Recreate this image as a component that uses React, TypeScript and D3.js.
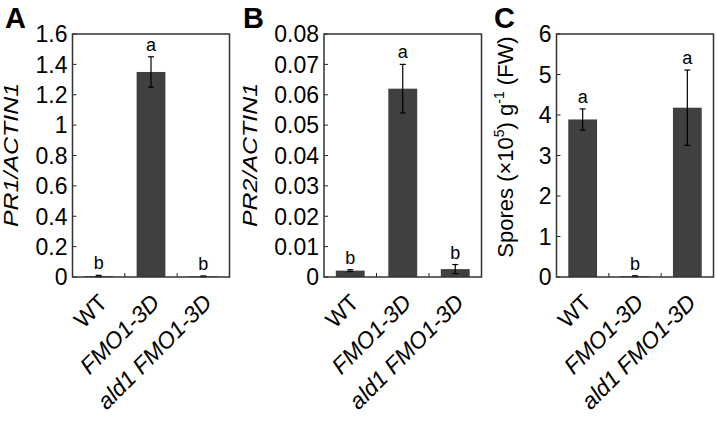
import * as d3 from 'd3';
import React from 'react';

const categories = ['WT', 'FMO1-3D', 'ald1 FMO1-3D'];
const italicCategory = [false, true, true];

const pr1Means = [0.006, 1.35, 0.004];
const pr1Errors = [0.005, 0.1, 0.003];
const pr1Letters = ['b', 'a', 'b'];
const pr1Ticks = [0, 0.2, 0.4, 0.6, 0.8, 1, 1.2, 1.4, 1.6];

const pr2Means = [0.0021, 0.062, 0.0026];
const pr2Errors = [0.0003, 0.008, 0.0015];
const pr2Letters = ['b', 'a', 'b'];
const pr2Ticks = [0, 0.01, 0.02, 0.03, 0.04, 0.05, 0.06, 0.07, 0.08];

const sporeMeans = [3.89, 0.02, 4.18];
const sporeErrors = [0.26, 0.01, 0.93];
const sporeLetters = ['a', 'b', 'a'];
const sporeTicks = [0, 1, 2, 3, 4, 5, 6];

const FONT = '"Liberation Sans", Arial, sans-serif';
const BAR = '#404040';
const top = 34;
const bottom = 277;

interface PanelProps {
  letter: string;
  left: number;
  width: number;
  means: number[];
  errors: number[];
  letters: string[];
  ticks: number[];
  yLabel: React.ReactNode;
  yLabelX: number;
  yLabelY: number;
  yLabelSize: number;
  yLabelLength?: number;
  letterX: number;
}

function Panel(props: PanelProps) {
  const { letter, left, width, means, errors, letters, ticks, yLabel, yLabelX, yLabelY, yLabelSize, yLabelLength, letterX } = props;
  const x = d3.scaleBand<string>().domain(categories).range([left, left + width]).paddingInner(0.45).paddingOuter(0.225);
  const y = d3.scaleLinear().domain([0, ticks[ticks.length - 1]]).range([bottom, top]);
  const step = x.step();

  return (
    <g fontFamily={FONT}>
      <text x={letterX} y={28} fontSize={29} fontWeight="bold" fill="#000">{letter}</text>
      {ticks.map((t) => (
        <g key={t}>
          <line x1={left} x2={left + 4} y1={y(t)} y2={y(t)} stroke="#222" strokeWidth={1} />
          <text x={left - 5} y={y(t)} dy="0.36em" textAnchor="end" fontSize={23} fill="#000">{String(t)}</text>
        </g>
      ))}
      {[1, 2].map((i) => (
        <line key={i} x1={left + step * i} x2={left + step * i} y1={bottom} y2={bottom - 4} stroke="#222" strokeWidth={1} />
      ))}
      {categories.map((c, i) => {
        const bx = x(c) as number;
        const cx = bx + x.bandwidth() / 2;
        const y0 = y(means[i]);
        const yHi = y(means[i] + errors[i]);
        const yLo = y(Math.max(0, means[i] - errors[i]));
        return (
          <g key={c}>
            <rect x={bx} y={y0} width={x.bandwidth()} height={bottom - y0} fill={BAR} />
            <line x1={cx} x2={cx} y1={yHi} y2={yLo} stroke="#000" strokeWidth={1.2} />
            <line x1={cx - 3} x2={cx + 3} y1={yHi} y2={yHi} stroke="#000" strokeWidth={1.2} />
            <line x1={cx - 3} x2={cx + 3} y1={yLo} y2={yLo} stroke="#000" strokeWidth={1.2} />
            <text x={cx} y={yHi - 6} textAnchor="middle" fontSize={18} fill="#000">{letters[i]}</text>
            <text
              transform={`translate(${cx + 10}, ${bottom + 27}) rotate(-45)`}
              textAnchor="end"
              fontSize={23}
              fontStyle={italicCategory[i] ? 'italic' : 'normal'}
              fill="#000"
            >
              {c}
            </text>
          </g>
        );
      })}
      <rect x={left} y={top} width={width} height={bottom - top} fill="none" stroke="#333" strokeWidth={1.5} />
      <text
        transform={`translate(${yLabelX}, ${yLabelY}) rotate(-90)`}
        textAnchor="middle"
        fontSize={yLabelSize}
        textLength={yLabelLength}
        lengthAdjust={yLabelLength ? 'spacingAndGlyphs' : undefined}
        fill="#000"
      >
        {yLabel}
      </text>
    </g>
  );
}

export default function App() {
  return (
    <svg width={717} height={421} style={{ position: 'absolute', left: 0, top: 0, background: '#fff' }}>
      <Panel
        letter="A"
        left={72.5}
        width={157}
        means={pr1Means}
        errors={pr1Errors}
        letters={pr1Letters}
        ticks={pr1Ticks}
        yLabel={<tspan fontStyle="italic">PR1/ACTIN1</tspan>}
        yLabelX={18}
        yLabelY={155}
        yLabelSize={21}
        yLabelLength={144}
        letterX={5}
      />
      <Panel
        letter="B"
        left={324}
        width={157.5}
        means={pr2Means}
        errors={pr2Errors}
        letters={pr2Letters}
        ticks={pr2Ticks}
        yLabel={<tspan fontStyle="italic">PR2/ACTIN1</tspan>}
        yLabelX={257}
        yLabelY={155}
        yLabelSize={21}
        yLabelLength={144}
        letterX={243}
      />
      <Panel
        letter="C"
        left={556.5}
        width={157}
        means={sporeMeans}
        errors={sporeErrors}
        letters={sporeLetters}
        ticks={sporeTicks}
        yLabel={
          <>
            <tspan>Spores (×10</tspan>
            <tspan fontSize={14} dy={-9}>5</tspan>
            <tspan dy={9}>) g</tspan>
            <tspan fontSize={14} dy={-9}>-1</tspan>
            <tspan dy={9}> (FW)</tspan>
          </>
        }
        yLabelX={513}
        yLabelY={147}
        yLabelSize={22}
        letterX={494}
      />
    </svg>
  );
}
